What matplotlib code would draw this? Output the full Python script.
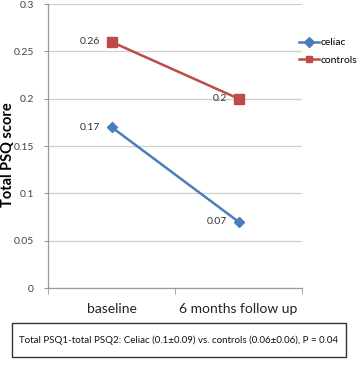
import matplotlib
matplotlib.use("Agg")
import matplotlib.pyplot as plt
from matplotlib.patches import Rectangle

categories = ["baseline", "6 months follow up"]
celiac = [0.17, 0.07]
controls = [0.26, 0.20]
celiac_labels = ["0.17", "0.07"]
controls_labels = ["0.26", "0.2"]
yticks = [0, 0.05, 0.1, 0.15, 0.2, 0.25, 0.3]
ytick_labels = ["0", "0.05", "0.1", "0.15", "0.2", "0.25", "0.3"]
footnote = "Total PSQ1-total PSQ2: Celiac (0.1\u00b10.09) vs. controls (0.06\u00b10.06), P = 0.04"

plt.rcParams['font.family'] = ['Lato', 'DejaVu Sans']

fig = plt.figure(figsize=(3.58, 3.68), dpi=100)
ax = fig.add_axes([48/358, 1-288/368, 254/358, 284/368])

x = [0, 1]
c1 = "#4A7EBB"
c2 = "#BE4B48"
ax.plot(x, celiac, color=c1, lw=1.8, marker="D", ms=5.5, label="celiac")
ax.plot(x, controls, color=c2, lw=1.8, marker="s", ms=7, label="controls")

for xi, v, t in zip(x, celiac, celiac_labels):
    ax.annotate(t, (xi, v), xytext=(-8, 0), textcoords="offset points",
                ha="right", va="center", fontsize=7.5, color="#333333")
for xi, v, t in zip(x, controls, controls_labels):
    ax.annotate(t, (xi, v), xytext=(-8, 0), textcoords="offset points",
                ha="right", va="center", fontsize=7.5, color="#333333")

ax.set_xlim(-0.5, 1.5)
ax.set_ylim(0, 0.3)
ax.set_yticks(yticks)
ax.set_yticklabels(ytick_labels, fontsize=7.5, color="#444444")
ax.set_xticks(x)
ax.set_xticklabels(categories, fontsize=10, color="#222222")
ax.tick_params(axis="x", length=0, pad=11)
ax.set_xticks([-0.5, 0.5, 1.5], minor=True)
ax.tick_params(axis="x", which="minor", length=4, color="#999999")
ax.tick_params(axis="y", length=3, color="#999999", pad=7)
ax.grid(axis="y", color="#CFCFCF", lw=0.9)
ax.set_axisbelow(True)
for s in ["top", "right"]:
    ax.spines[s].set_visible(False)
for s in ["left", "bottom"]:
    ax.spines[s].set_color("#999999")
    ax.spines[s].set_linewidth(0.9)

ax.set_ylabel("Total PSQ score", fontsize=10.5, fontweight="bold")
ax.yaxis.set_label_coords(-33/254, (288 - 155) / 284)

leg = ax.legend(loc="upper left", bbox_to_anchor=(0.99, 0.88), frameon=False,
                fontsize=7.5, handlelength=1.9, handletextpad=0.15, labelspacing=0.8,
                borderaxespad=0, borderpad=0)
for h in leg.legend_handles:
    h.set_markersize(5)

fig.patches.append(Rectangle((12/358, 1-357/368), 334/358, 34/368,
                             transform=fig.transFigure, fill=False,
                             edgecolor="#333333", lw=1))
fig.text(179/358, 1-340/368, footnote, ha="center", va="center", fontsize=7,
         color="#111111")

fig.savefig("out.png", dpi=100)
